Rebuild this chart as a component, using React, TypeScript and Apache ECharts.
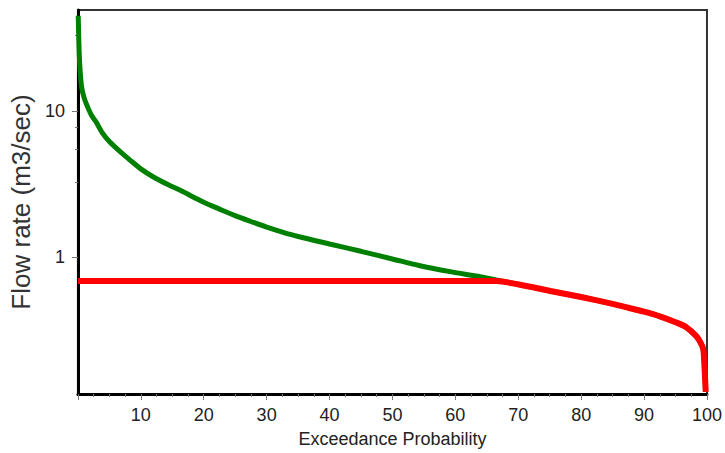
import React, { useEffect, useRef } from "react";
import * as echarts from "echarts";

// Flow duration curve (green) — exceedance probability (%) and flow (m3/sec)
const greenX = [0.05, 0.2, 0.35, 0.6, 1.0, 1.5, 2.2, 3.0, 3.8, 5.0, 6.9, 8.5, 10.1, 12.0, 14.3, 16.5, 18.4, 20, 22.5, 25, 27.5, 30, 32.5, 35, 40, 45, 50, 54.2, 59.4, 63.6, 66.5, 69.9, 75.1, 80, 85, 87.5, 90, 92.5, 95, 96.7, 98.3, 99.0, 99.4, 99.6, 99.8];
const greenY = [45, 25, 19, 14.5, 12.3, 10.8, 9.3, 8.3, 7.2, 6.2, 5.2, 4.55, 4.0, 3.55, 3.15, 2.84, 2.58, 2.38, 2.14, 1.93, 1.76, 1.61, 1.49, 1.39, 1.235, 1.1, 0.975, 0.88, 0.795, 0.742, 0.70, 0.654, 0.589, 0.535, 0.48, 0.452, 0.425, 0.395, 0.36, 0.333, 0.289, 0.26, 0.236, 0.18, 0.12];

// Capped / regulated curve (red)
const redX = [0, 66.5, 69.9, 75.1, 80, 85, 87.5, 90, 92.5, 95, 96.7, 98.3, 99.0, 99.4, 99.6, 99.8];
const redY = [0.689, 0.689, 0.654, 0.589, 0.535, 0.48, 0.452, 0.425, 0.395, 0.36, 0.333, 0.289, 0.26, 0.236, 0.18, 0.12];

const yMajorTicks = [1, 10];
const yMinorTicks = [3.25, 5.46, 7.76, 32.9];

const Y_MIN = 0.1161;
const Y_MAX = 49.3;

export default function App() {
  const ref = useRef<HTMLDivElement>(null);
  useEffect(() => {
    if (!ref.current) return;
    const chart = echarts.init(ref.current, null, { renderer: "svg" });
    const font = "'Liberation Sans', Arial, sans-serif";
    chart.setOption({
      animation: false,
      backgroundColor: "#fff",
      grid: {
        left: 76,
        right: 14,
        top: 10,
        bottom: 58,
        show: true,
        borderColor: "#333",
        borderWidth: 2,
        backgroundColor: "transparent",
      },
      xAxis: {
        type: "value",
        min: 0,
        max: 100,
        interval: 10,
        axisLine: { onZero: false, lineStyle: { color: "#000", width: 3 } },
        axisTick: { length: 6, lineStyle: { color: "#777" } },
        minorTick: { show: true, splitNumber: 4, length: 3, lineStyle: { color: "#777" } },
        axisLabel: { showMinLabel: false, fontSize: 18, margin: 12, color: "#222", fontFamily: font },
        splitLine: { show: false },
        minorSplitLine: { show: false },
        name: "Exceedance Probability",
        nameLocation: "middle",
        nameGap: 36,
        nameTextStyle: { fontSize: 18, color: "#222", fontFamily: font },
      },
      yAxis: [
        {
          type: "log",
          logBase: 10,
          min: Y_MIN,
          max: Y_MAX,
          position: "left",
          axisLine: { show: true, onZero: false, lineStyle: { color: "#000", width: 3 } },
          axisTick: { show: true, length: 6, customValues: yMajorTicks, lineStyle: { color: "#777" } },
          axisLabel: { customValues: yMajorTicks, fontSize: 18, margin: 13, color: "#222", fontFamily: font },
          splitLine: { show: false },
          name: "Flow rate (m3/sec)",
          nameLocation: "middle",
          nameGap: 37,
          nameTextStyle: { fontSize: 26, color: "#333", fontFamily: font },
        },
        {
          type: "log",
          logBase: 10,
          min: Y_MIN,
          max: Y_MAX,
          position: "left",
          axisLine: { show: false, onZero: false },
          axisTick: { show: true, length: 3, customValues: yMinorTicks, lineStyle: { color: "#777" } },
          axisLabel: { show: false },
          splitLine: { show: false },
        },
      ],
      series: [
        {
          type: "line",
          yAxisIndex: 0,
          data: greenX.map((x, i) => [x, greenY[i]]),
          showSymbol: false,
          smooth: 0.3,
          lineStyle: { color: "#008000", width: 5 },
          itemStyle: { color: "#008000" },
          z: 2,
        },
        {
          type: "line",
          yAxisIndex: 0,
          data: redX.map((x, i) => [x, redY[i]]),
          showSymbol: false,
          smooth: 0.3,
          lineStyle: { color: "#ff0000", width: 6 },
          itemStyle: { color: "#ff0000" },
          z: 3,
        },
      ],
    });
    return () => chart.dispose();
  }, []);
  return (
    <div
      ref={ref}
      style={{ position: "fixed", left: 0, top: 0, width: 725, height: 453 }}
    />
  );
}
